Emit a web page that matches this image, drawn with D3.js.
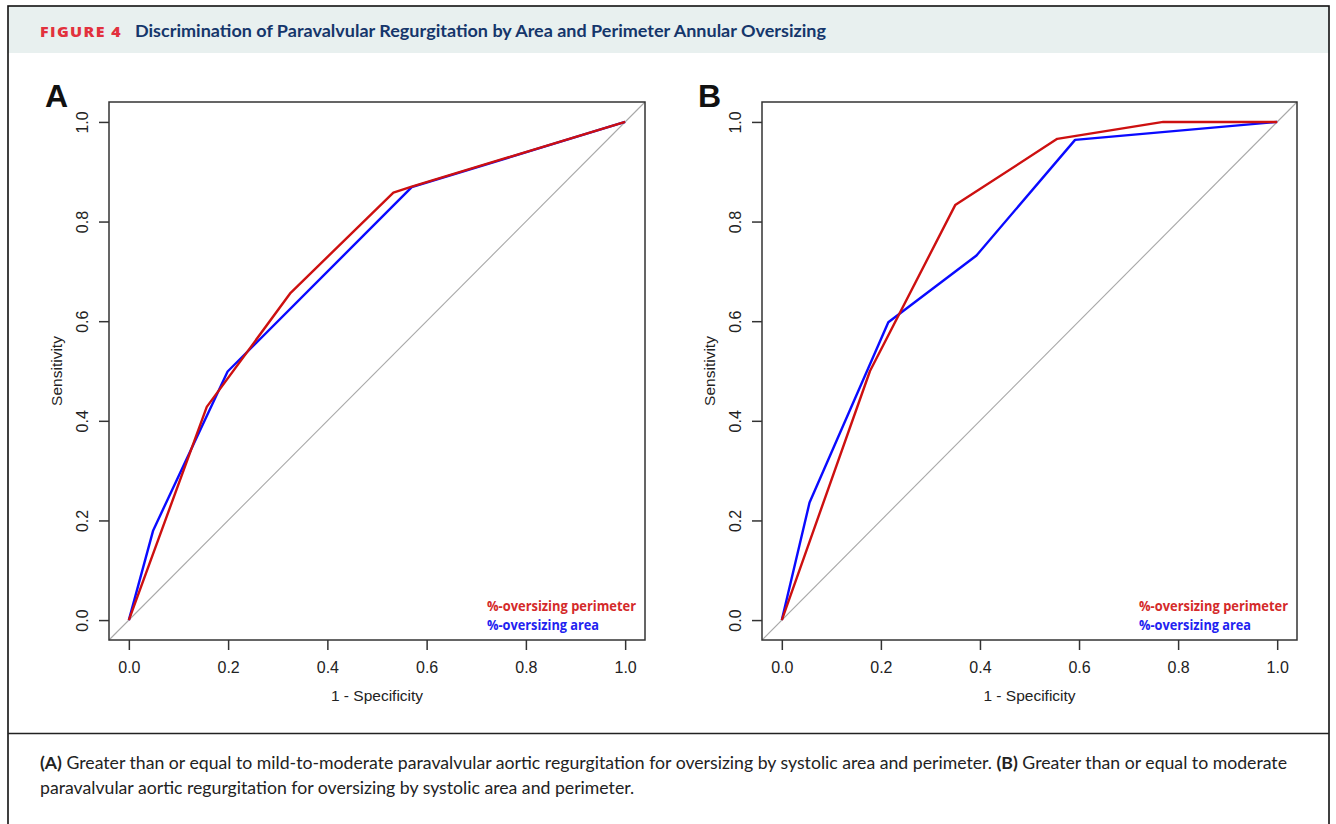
<!DOCTYPE html>
<html>
<head>
<meta charset="utf-8">
<script src="https://cdn.jsdelivr.net/npm/d3@7"></script>
<style>
  html, body { margin: 0; padding: 0; background: #ffffff; }
  svg { display: block; }
</style>
</head>
<body>
<svg id="chart" width="1336" height="824"></svg>
<script>
// ---------------- DATA ----------------
const tickValues = [0.0, 0.2, 0.4, 0.6, 0.8, 1.0];
const panelLabels = ["A", "B"];
const seriesNames = ["%-oversizing perimeter", "%-oversizing area"];

// Panel A (>= mild-to-moderate PAR)
const fprA_perimeter = [0, 0.157, 0.326, 0.533, 0.570, 1.0];
const tprA_perimeter = [0, 0.428, 0.657, 0.858, 0.870, 1.0];
const fprA_area      = [0, 0.049, 0.199, 0.570, 1.0];
const tprA_area      = [0, 0.180, 0.499, 0.869, 1.0];

// Panel B (>= moderate PAR)
const fprB_perimeter = [0, 0.178, 0.350, 0.556, 0.770, 1.0];
const tprB_perimeter = [0, 0.500, 0.833, 0.966, 1.000, 1.0];
const fprB_area      = [0, 0.056, 0.215, 0.393, 0.592, 1.0];
const tprB_area      = [0, 0.236, 0.598, 0.732, 0.964, 1.0];

const headerTag = "FIGURE 4";
const headerTitle = "Discrimination of Paravalvular Regurgitation by Area and Perimeter Annular Oversizing";
const xTitle = "1 - Specificity";
const yTitle = "Sensitivity";
const captionLine1 = [
  {t: "(A)", b: true},
  {t: " Greater than or equal to mild-to-moderate paravalvular aortic regurgitation for oversizing by systolic area and perimeter. ", b: false},
  {t: "(B)", b: true},
  {t: " Greater than or equal to moderate", b: false}
];
const captionLine2 = [
  {t: "paravalvular aortic regurgitation for oversizing by systolic area and perimeter.", b: false}
];

// ---------------- STYLE ----------------
const RED = "#cd1010";
const BLUE = "#0a0aff";
const plotFont = "'Liberation Sans', Arial, sans-serif";
const jFont = "Lato, 'Open Sans', sans-serif";

const svg = d3.select("#chart");

// Outer frame + header band
svg.append("rect").attr("x", 8).attr("y", 6).attr("width", 1321).attr("height", 47)
  .attr("fill", "#e8f0ef");
svg.append("rect").attr("x", 8).attr("y", 6).attr("width", 1321).attr("height", 830)
  .attr("fill", "none").attr("stroke", "#111").attr("stroke-width", 1.6);
svg.append("line").attr("x1", 8).attr("x2", 1329).attr("y1", 733.5).attr("y2", 733.5)
  .attr("stroke", "#222").attr("stroke-width", 1.4);

// Header text
svg.append("text").attr("x", 40).attr("y", 37)
  .attr("font-family", "'Open Sans', 'Liberation Sans', sans-serif").attr("font-weight", 800).attr("font-size", 14)
  .attr("letter-spacing", 1.2).attr("fill", "#e2313d")
  .attr("textLength", 82).attr("lengthAdjust", "spacingAndGlyphs")
  .text(headerTag);
svg.append("text").attr("x", 135).attr("y", 37)
  .attr("font-family", jFont).attr("font-weight", 700).attr("font-size", 17)
  .attr("fill", "#15366b")
  .attr("textLength", 691).attr("lengthAdjust", "spacingAndGlyphs")
  .text(headerTitle);

// Caption
function captionText(parts, y) {
  const t = svg.append("text").attr("x", 40).attr("y", y)
    .attr("font-family", jFont).attr("font-size", 17).attr("fill", "#222");
  parts.forEach(p => t.append("tspan").attr("font-weight", p.b ? 700 : 400).text(p.t));
  return t;
}
const c1 = captionText(captionLine1, 769);
const c2 = captionText(captionLine2, 794);
const nat1 = c1.node().getComputedTextLength();
const ratio = 1247 / nat1;
c1.attr("textLength", 1247).attr("lengthAdjust", "spacingAndGlyphs");
const nat2 = c2.node().getComputedTextLength();
c2.attr("textLength", nat2 * ratio).attr("lengthAdjust", "spacingAndGlyphs");

// ---------------- PANELS ----------------
const panels = [
  {label: panelLabels[0], left: 109, right: 645, top: 102, bottom: 640,
   perim: fprA_perimeter.map((f, i) => [f, tprA_perimeter[i]]),
   area: fprA_area.map((f, i) => [f, tprA_area[i]])},
  {label: panelLabels[1], left: 762, right: 1297, top: 102, bottom: 640,
   perim: fprB_perimeter.map((f, i) => [f, tprB_perimeter[i]]),
   area: fprB_area.map((f, i) => [f, tprB_area[i]])}
];

panels.forEach(p => {
  const x = d3.scaleLinear().domain([-0.04, 1.04]).range([p.left, p.right]);
  const y = d3.scaleLinear().domain([-0.04, 1.04]).range([p.bottom, p.top]);
  const g = svg.append("g");

  // diagonal reference line
  g.append("line")
    .attr("x1", x(-0.04)).attr("y1", y(-0.04))
    .attr("x2", x(1.04)).attr("y2", y(1.04))
    .attr("stroke", "#a8a8a8").attr("stroke-width", 1.1);

  const line = d3.line().x(d => x(d[0])).y(d => y(d[1]));
  g.append("path").datum(p.area).attr("d", line)
    .attr("fill", "none").attr("stroke", BLUE).attr("stroke-width", 2.4)
    .attr("stroke-linejoin", "round");
  g.append("path").datum(p.perim).attr("d", line)
    .attr("fill", "none").attr("stroke", RED).attr("stroke-width", 2.4)
    .attr("stroke-linejoin", "round");

  // box
  g.append("rect").attr("x", p.left).attr("y", p.top)
    .attr("width", p.right - p.left).attr("height", p.bottom - p.top)
    .attr("fill", "none").attr("stroke", "#333").attr("stroke-width", 1.5);

  // x axis
  const xa = g.append("g").attr("transform", `translate(0,${p.bottom})`)
    .call(d3.axisBottom(x).tickValues(tickValues).tickSize(10).tickPadding(12)
      .tickFormat(d3.format(".1f")));
  xa.select(".domain").remove();
  xa.selectAll(".tick line").attr("stroke", "#333").attr("stroke-width", 1.5);
  xa.selectAll(".tick text").attr("font-family", plotFont).attr("font-size", 16)
    .attr("fill", "#222");

  // y axis
  const ya = g.append("g").attr("transform", `translate(${p.left},0)`)
    .call(d3.axisLeft(y).tickValues(tickValues).tickSize(10)
      .tickFormat(d3.format(".1f")));
  ya.select(".domain").remove();
  ya.selectAll(".tick line").attr("stroke", "#333").attr("stroke-width", 1.5);
  ya.selectAll(".tick text")
    .attr("font-family", plotFont).attr("font-size", 16).attr("fill", "#222")
    .attr("x", 0).attr("y", 0).attr("dy", null)
    .attr("text-anchor", "middle")
    .attr("transform", "translate(-21,0) rotate(-90)");

  // axis titles
  g.append("text").attr("x", (x(0) + x(1)) / 2).attr("y", 701)
    .attr("text-anchor", "middle").attr("font-family", plotFont).attr("font-size", 15.5)
    .attr("fill", "#222").text(xTitle);
  g.append("text")
    .attr("transform", `translate(${p.left - 47},${(p.top + p.bottom) / 2}) rotate(-90)`)
    .attr("text-anchor", "middle").attr("font-family", plotFont).attr("font-size", 15.5)
    .attr("fill", "#222").text(yTitle);

  // panel label
  g.append("text").attr("x", p.left - 64).attr("y", 107)
    .attr("font-family", plotFont).attr("font-weight", 700).attr("font-size", 32)
    .attr("fill", "#111").text(p.label);

  // legend
  const lx = p.right - 158;
  g.append("text").attr("x", lx).attr("y", 611)
    .attr("font-family", "'Open Sans', sans-serif").attr("font-weight", 700).attr("font-size", 13.5)
    .attr("fill", "#d42a2a")
    .attr("textLength", 149).attr("lengthAdjust", "spacingAndGlyphs")
    .text(seriesNames[0]);
  g.append("text").attr("x", lx).attr("y", 630)
    .attr("font-family", "'Open Sans', sans-serif").attr("font-weight", 700).attr("font-size", 13.5)
    .attr("fill", "#2222f0")
    .attr("textLength", 112).attr("lengthAdjust", "spacingAndGlyphs")
    .text(seriesNames[1]);
});
</script>
</body>
</html>
